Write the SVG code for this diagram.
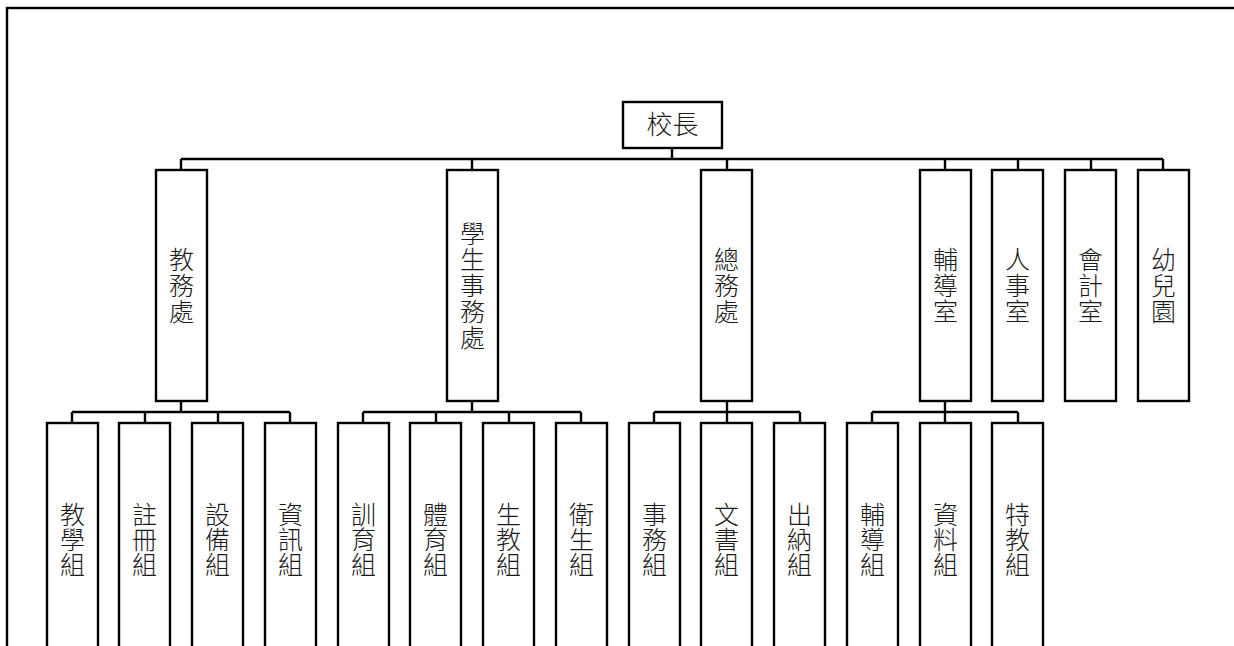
<svg xmlns="http://www.w3.org/2000/svg" width="1234" height="646" viewBox="0 0 1234 646">
<style>
.box{fill:#fff;stroke:#000;stroke-width:2.4}
.ln{fill:none;stroke:#000;stroke-width:2.4}
.t{font-family:"Noto Sans CJK TC","Noto Sans CJK JP",sans-serif;font-size:25px;font-weight:300;fill:#1a1a1a;text-anchor:middle}
.v{writing-mode:vertical-rl;letter-spacing:1px}
.v2{writing-mode:vertical-rl;letter-spacing:0px}
.frame{fill:none;stroke:#000;stroke-width:2.4}
</style>
<rect class="frame" x="7" y="8" width="1250" height="700"/>
<g id="connectors">
<path class="ln" d="M672,148V159M181,159H1163M181,159V170M472,159V170M727,159V170M945,159V170M1018,159V170M1091,159V170M1163,159V170"/>
<path class="ln" d="M181,401V412M72,412H290M72,412V423M145,412V423M218,412V423M290,412V423"/>
<path class="ln" d="M472,401V412M363,412H581M363,412V423M436,412V423M509,412V423M581,412V423"/>
<path class="ln" d="M727,401V412M654,412H800M654,412V423M727,412V423M800,412V423"/>
<path class="ln" d="M945,401V412M872,412H1018M872,412V423M945,412V423M1018,412V423"/>
</g>
<g id="n-root"><rect class="box" x="623" y="102" width="99" height="46"/><text class="t" x="672.5" y="134" style="font-size:26px">校長</text></g>
<g id="n-jiaowu"><rect class="box" x="156" y="170" width="51" height="231"/><text class="t v" x="181.5" y="286">教務處</text></g>
<g id="n-xuesheng"><rect class="box" x="447" y="170" width="51" height="231"/><text class="t v" x="472.5" y="286">學生事務處</text></g>
<g id="n-zongwu"><rect class="box" x="701" y="170" width="51" height="231"/><text class="t v" x="726.5" y="286">總務處</text></g>
<g id="n-fudao"><rect class="box" x="920" y="170" width="51" height="231"/><text class="t v" x="945.5" y="286">輔導室</text></g>
<g id="n-renshi"><rect class="box" x="992" y="170" width="51" height="231"/><text class="t v" x="1017.5" y="286">人事室</text></g>
<g id="n-kuaiji"><rect class="box" x="1065" y="170" width="51" height="231"/><text class="t v" x="1090.5" y="286">會計室</text></g>
<g id="n-youer"><rect class="box" x="1138" y="170" width="51" height="231"/><text class="t v" x="1163.5" y="286">幼兒園</text></g>
<g id="n-jiaoxue"><rect class="box" x="47" y="423" width="51" height="240"/><text class="t v2" x="72.5" y="539">教學組</text></g>
<g id="n-zhuce"><rect class="box" x="119" y="423" width="51" height="240"/><text class="t v2" x="144.5" y="539">註冊組</text></g>
<g id="n-shebei"><rect class="box" x="192" y="423" width="51" height="240"/><text class="t v2" x="217.5" y="539">設備組</text></g>
<g id="n-zixun"><rect class="box" x="265" y="423" width="51" height="240"/><text class="t v2" x="290.5" y="539">資訊組</text></g>
<g id="n-xunyu"><rect class="box" x="338" y="423" width="51" height="240"/><text class="t v2" x="363.5" y="539">訓育組</text></g>
<g id="n-tiyu"><rect class="box" x="410" y="423" width="51" height="240"/><text class="t v2" x="435.5" y="539">體育組</text></g>
<g id="n-shengjiao"><rect class="box" x="483" y="423" width="51" height="240"/><text class="t v2" x="508.5" y="539">生教組</text></g>
<g id="n-weisheng"><rect class="box" x="556" y="423" width="51" height="240"/><text class="t v2" x="581.5" y="539">衛生組</text></g>
<g id="n-shiwu"><rect class="box" x="629" y="423" width="51" height="240"/><text class="t v2" x="654.5" y="539">事務組</text></g>
<g id="n-wenshu"><rect class="box" x="701" y="423" width="51" height="240"/><text class="t v2" x="726.5" y="539">文書組</text></g>
<g id="n-chuna"><rect class="box" x="774" y="423" width="51" height="240"/><text class="t v2" x="799.5" y="539">出納組</text></g>
<g id="n-fudaozu"><rect class="box" x="847" y="423" width="51" height="240"/><text class="t v2" x="872.5" y="539">輔導組</text></g>
<g id="n-ziliao"><rect class="box" x="920" y="423" width="51" height="240"/><text class="t v2" x="945.5" y="539">資料組</text></g>
<g id="n-tejiao"><rect class="box" x="992" y="423" width="51" height="240"/><text class="t v2" x="1017.5" y="539">特教組</text></g>
</svg>
